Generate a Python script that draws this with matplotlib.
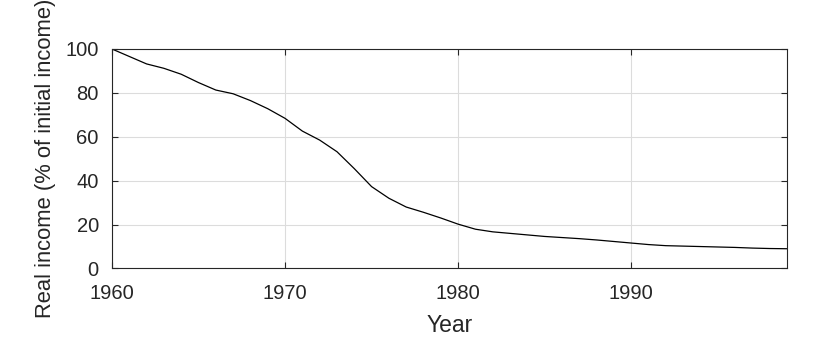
import matplotlib
matplotlib.use('Agg')
import matplotlib.pyplot as plt

# Dữ liệu
years = list(range(1960, 2000))
real_income = [100.0, 96.6, 93.2, 91.2, 88.5, 84.7, 81.3, 79.6, 76.5, 72.8,
               68.4, 62.6, 58.5, 53.2, 45.5, 37.3, 32.0, 28.0, 25.6, 23.0,
               20.2, 17.9, 16.7, 16.0, 15.3, 14.6, 14.1, 13.6, 13.0, 12.3,
               11.6, 10.9, 10.4, 10.2, 10.0, 9.8, 9.6, 9.3, 9.1, 9.0]
x_ticks = [1960, 1970, 1980, 1990]
y_ticks = [0, 20, 40, 60, 80, 100]

plt.rcParams['font.family'] = ['Liberation Sans', 'DejaVu Sans']
plt.rcParams['font.size'] = 14.5

fig = plt.figure(figsize=(8.3, 3.4), dpi=100)
ax = fig.add_axes([0.1349, 0.2103, 0.8133, 0.6456])

ax.plot(years, real_income, color='black', linewidth=0.9)

ax.set_xlim(1960, 1999)
ax.set_ylim(0, 100)
ax.set_xticks(x_ticks)
ax.set_yticks(y_ticks)
ax.grid(True, color='#dcdcdc', linewidth=0.8)
ax.set_axisbelow(True)

ax.tick_params(direction='in', top=True, right=True, length=4.5, width=0.8,
               colors='#262626', labelcolor='#262626')
ax.tick_params(axis='x', pad=11)
ax.tick_params(axis='y', pad=9.5)
for s in ax.spines.values():
    s.set_color('#262626')
    s.set_linewidth(0.8)

ax.set_xlabel('Year', color='#262626', fontsize=16.5, labelpad=8)
ax.set_ylabel('Real income (% of initial income)', color='#262626',
              fontsize=15.8, labelpad=7)

fig.savefig('out.png', dpi=100)
